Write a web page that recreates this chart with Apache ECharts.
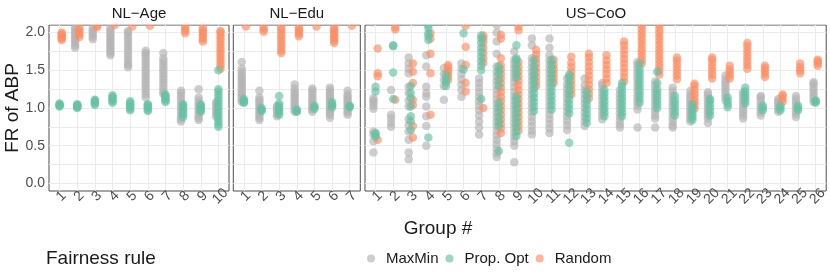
<!DOCTYPE html>
<html><head><meta charset="utf-8">
<script src="https://cdn.jsdelivr.net/npm/echarts@6/dist/echarts.min.js"></script>
<style>html,body{margin:0;padding:0;background:#fff}#c{width:830px;height:277px}</style>
</head><body><div id="c"></div>
<script>
const FONT = "'Liberation Sans', Arial, Helvetica, sans-serif";
const panelNames = ['NL\u2212Age', 'NL\u2212Edu', 'US\u2212CoO'];
const groupCounts = [10, 7, 26];
const rules = ['MaxMin', 'Prop. Opt', 'Random'];
const yTickValues = [0, 0.5, 1, 1.5, 2];
const yGridValues = [0, 0.25, 0.5, 0.75, 1, 1.25, 1.5, 1.75, 2];

// ---- NL-Age (values per group 1..10)
const nlAgeMaxMin = [
  [],
  [1.80,1.83,1.86,1.89,1.92,1.95,1.98,2.01,2.04,2.07],
  [1.91,1.94,1.97,2.00,2.03,2.06],
  [1.70,1.73,1.76,1.79,1.82,1.85,1.88,1.91,1.94,1.97,2.00,2.03,2.06],
  [1.54,1.57,1.60,1.64,1.68,1.72,1.76,1.80,1.84,1.88,1.92,1.96,2.00,2.02],
  [1.14,1.18,1.22,1.26,1.30,1.34,1.38,1.42,1.46,1.50,1.54,1.58,1.62,1.66,1.70,1.73,1.76],
  [1.19,1.22,1.26,1.30,1.34,1.38,1.42,1.46,1.50,1.54,1.58,1.62,1.66,1.73],
  [0.82,0.85,0.88,0.92,0.96,1.00,1.04,1.08,1.12,1.16,1.20,1.23],
  [0.84,0.87,0.90,0.94,0.98,1.02,1.06,1.10,1.14,1.25],
  [0.88,0.91,0.94,0.97,1.00,1.03,1.06,1.08]
];
const nlAgePropOpt = [
  [1.02,1.03,1.04,1.05,1.06],
  [1.00,1.01,1.02,1.03,1.04,1.05],
  [1.04,1.06,1.08,1.10,1.11],
  [1.07,1.09,1.11,1.13,1.15,1.17],
  [0.97,0.99,1.01,1.03,1.05,1.07,1.09],
  [0.96,0.98,1.00,1.02,1.04,1.05],
  [1.08,1.10,1.12,1.14,1.16,1.18],
  [0.88,0.91,0.94,0.97,1.00,1.03,1.05],
  [0.95,0.97,0.99,1.01,1.03,1.05],
  [0.75,0.78,0.82,0.86,0.90,0.94,0.98,1.02,1.06,1.10,1.14,1.18,1.22,1.25,1.50]
];
const nlAgeRandom = [
  [1.90,1.92,1.94,1.96,1.98,2.00],
  [1.94,1.97,2.00,2.03,2.06],
  [2.07,2.09],
  [2.10],
  [2.08],
  [2.09],
  [],
  [1.99,2.02,2.05,2.08],
  [1.88,1.91,1.94,1.97,2.00,2.03,2.06],
  [1.52,1.56,1.60,1.64,1.68,1.72,1.76,1.80,1.84,1.88,1.92,1.96,2.00,2.02]
];

// ---- NL-Edu (groups 1..7)
const nlEduMaxMin = [
  [1.08,1.11,1.14,1.17,1.20,1.23,1.26,1.29,1.32,1.35,1.38,1.41,1.44,1.48,1.52,1.61],
  [0.84,0.87,0.90,0.93,0.96,0.99,1.02,1.05,1.08,1.11,1.14,1.23],
  [0.89,0.92,0.95,0.98,1.01,1.03],
  [0.95,0.98,1.01,1.04,1.07,1.10,1.13,1.16,1.19,1.22,1.26,1.31],
  [0.95,0.98,1.01,1.04,1.07,1.10,1.13,1.16,1.20,1.23,1.26],
  [0.87,0.91,0.94,0.97,1.00,1.03,1.06,1.09,1.12,1.15,1.18,1.21,1.24,1.27],
  [0.91,0.94,0.97,1.00,1.03,1.06,1.09,1.12,1.15,1.18,1.23]
];
const nlEduPropOpt = [
  [1.07,1.08,1.10,1.12],
  [0.96,0.97,0.98,1.00],
  [0.91,0.94,0.97,1.00,1.03,1.06,1.16],
  [0.95,0.96,0.98],
  [0.99,1.01,1.03],
  [1.01,1.03,1.05,1.08],
  [1.01,1.02,1.03]
];
const nlEduRandom = [
  [2.08],
  [2.01,2.04,2.07],
  [1.73,1.76,1.80,1.84,1.88,1.92,1.96,2.00,2.04,2.07],
  [1.95,1.98,2.01,2.04,2.07],
  [2.08],
  [1.86,1.89,1.92,1.95,1.98,2.01,2.04,2.07],
  [2.09]
];

// ---- US-CoO (groups 1..26)
const usCooMaxMin = [
  [0.41,0.56,0.65,0.69,0.99,1.03,1.07,1.10,1.13],
  [0.75,0.80,0.86,0.91,1.24],
  [0.32,0.41,0.58,0.69,0.77,0.85,1.02,1.10,1.20,1.28,1.46,1.52,1.59,1.67],
  [0.50,0.76,0.89,1.02,1.15,1.20,1.28,1.55,1.70],
  [1.11,1.29,1.37,1.45,1.53],
  [1.15,1.24,1.31,1.38,1.45,1.52,1.59],
  [0.65,0.74,0.82,0.90,0.97,1.03,1.09,1.15,1.21,1.27,1.33,1.39],
  [0.35,0.40,0.46,0.52,0.58,0.64,0.70,0.76,0.82,0.88,0.94,1.00,1.06,1.12,1.18,1.24,1.30,1.36,1.42,1.48,1.55,1.72,1.88,2.00,2.10],
  [0.28,0.50,0.56,0.62,0.68,0.74,0.80,0.86,0.92,0.98,1.04,1.10,1.16,1.22,1.28,1.34,1.40,1.46,1.52,1.58,1.64,1.75],
  [0.65,0.70,0.76,0.82,0.88,0.94,1.00,1.06,1.12,1.18,1.24,1.30,1.36,1.42,1.48,1.54,1.60,1.66,1.83,1.92],
  [0.67,0.73,0.79,0.85,0.91,0.97,1.03,1.09,1.15,1.21,1.27,1.33,1.39,1.45,1.51,1.57,1.63,1.70,1.80,1.92],
  [0.71,0.77,0.83,0.89,0.95,1.01,1.07,1.13,1.19,1.25,1.31,1.39],
  [0.76,0.82,0.88,0.94,1.00,1.06,1.12,1.18,1.24,1.30,1.39],
  [0.85,0.90,0.95,1.00,1.05,1.10,1.15,1.20,1.25,1.30,1.33],
  [0.74,0.78,0.83,0.88,0.93,0.98,1.03,1.08,1.13,1.18,1.24],
  [0.74,0.98,1.03,1.08,1.13,1.18,1.23,1.28,1.33,1.38,1.43,1.48,1.53,1.57,1.61],
  [0.74,0.86,0.90,0.95,1.00,1.05,1.10,1.15,1.20,1.25,1.30,1.35],
  [0.74,0.77,0.82,0.87,0.92,0.97,1.02,1.07,1.12,1.17,1.22,1.27],
  [0.82,0.86,0.90,0.94,0.98,1.02,1.06,1.10,1.14,1.18,1.23],
  [0.80,0.86,0.90,0.94,0.98,1.02,1.06,1.10,1.14,1.18,1.21],
  [1.10,1.14,1.18,1.22,1.26,1.30,1.34,1.38,1.43],
  [0.86,0.90,0.94,0.98,1.02,1.06,1.10,1.14,1.18,1.21],
  [0.90,0.94,0.98,1.02,1.06,1.10,1.14,1.16],
  [0.95,0.98,1.01,1.04,1.07,1.10,1.12],
  [0.88,0.92,0.96,1.00,1.04,1.08,1.12,1.16],
  [1.08,1.12,1.16,1.20,1.24,1.28,1.32,1.34]
];
const usCooPropOpt = [
  [0.62,0.65,0.67,1.22,1.28],
  [1.12,1.47,1.82,1.83],
  [0.71,0.82,0.89,1.02,1.13,1.20,1.29],
  [0.61,1.90,1.95,1.99,2.06,2.10],
  [1.29,1.34,1.38,1.44],
  [1.51,1.99],
  [1.12,1.50,1.56,1.62,1.68,1.74,1.80,1.86,1.92,1.96],
  [0.43,0.76,0.82,0.88,0.95,1.01,1.07,1.29,1.37,1.45,1.50,1.55],
  [0.63,0.69,0.75,0.81,0.87,0.93,0.99,1.05,1.10,1.15,1.40,1.46,1.52,1.58,1.64,1.66,1.83],
  [0.96,1.02,1.08,1.14,1.20,1.26,1.32,1.38,1.44,1.50,1.56,1.64],
  [0.98,1.04,1.10,1.16,1.22,1.28,1.34,1.40,1.46,1.52,1.58,1.64],
  [0.54,0.93,0.99,1.05,1.11,1.17,1.23,1.29,1.35,1.41,1.44],
  [0.80,0.86,0.92,0.98,1.04,1.10,1.16,1.22],
  [0.89,0.94,0.99,1.04,1.09,1.14,1.19,1.24],
  [0.89,0.94,0.99,1.04,1.09,1.14,1.19,1.24,1.29,1.33],
  [1.07,1.12,1.17,1.22,1.27,1.32,1.37,1.42,1.47,1.52,1.59],
  [1.00,1.05,1.10,1.15,1.20,1.25,1.33,1.48],
  [0.90,0.95,1.00,1.05,1.10,1.16],
  [0.84,0.88,0.92,0.96,1.00,1.05],
  [0.90,0.95,1.00,1.05,1.10,1.12],
  [1.01,1.05,1.09,1.14],
  [1.06,1.10,1.14,1.18,1.22,1.27],
  [0.97,1.00,1.03],
  [0.97,1.00,1.03],
  [0.97,1.00,1.03],
  [1.07,1.09,1.10]
];
const usCooRandom = [
  [0.58,1.42,1.46,1.79],
  [1.11,2.04,2.07],
  [0.61,0.76,1.04,1.11,1.33,1.48,1.59],
  [0.91,1.46,1.72,1.92,1.99],
  [1.37,1.42,1.46,1.50,1.54,1.57],
  [1.22,1.33,1.57,1.81,2.09],
  [1.00,1.60,1.66,1.73,1.80,1.87,1.92,1.96],
  [0.67,0.73,0.79,0.85,0.91,0.97,1.03,1.09,1.15,1.21,1.27,1.33,1.39,1.45,1.51,1.57,1.66,1.92,1.97],
  [0.70,0.76,0.82,0.88,0.94,1.00,1.06,1.12,1.18,1.24,1.30,1.36,1.42,1.48,1.54,1.61,2.03,2.08],
  [1.29,1.35,1.41,1.47,1.53,1.59,1.65,1.71,1.77],
  [1.33,1.39,1.45,1.51,1.57,1.64],
  [1.18,1.24,1.30,1.36,1.42,1.48,1.54,1.60,1.68],
  [1.13,1.19,1.25,1.31,1.37,1.43,1.49,1.55,1.61,1.67,1.72],
  [1.33,1.39,1.45,1.51,1.57,1.63,1.70],
  [1.35,1.41,1.47,1.53,1.59,1.65,1.71,1.77,1.83,1.88],
  [1.59,1.64,1.69,1.74,1.79,1.84,1.89,1.94,1.99,2.04,2.09],
  [1.44,1.49,1.54,1.59,1.64,1.69,1.74,1.79,1.84,1.89,1.94,1.99,2.04,2.09],
  [1.38,1.43,1.48,1.53,1.58,1.63,1.67],
  [0.99,1.04,1.09,1.14,1.19,1.24,1.29,1.32],
  [1.39,1.44,1.49,1.54,1.59,1.64,1.67],
  [1.39,1.43,1.47,1.51,1.56],
  [1.52,1.57,1.62,1.67,1.72,1.77,1.82,1.86],
  [1.41,1.45,1.49,1.53,1.56],
  [1.08,1.12,1.16,1.18],
  [1.46,1.50,1.54,1.59],
  [1.56,1.59,1.62,1.64]
];

const panelData = [
  [nlAgeMaxMin, nlAgePropOpt, nlAgeRandom],
  [nlEduMaxMin, nlEduPropOpt, nlEduRandom],
  [usCooMaxMin, usCooPropOpt, usCooRandom]
];

// ---- presentation
const colors = ['#B3B3B3', '#66C2A5', '#FC8D62'];
const dodge = [-0.12, 0, 0.12];
const gridLeft = [49, 233.3, 365];
const gridWidth = [180, 127, 462];
const gridTop = 25, gridHeight = 166;
const XMIN_PAD = 0.6; // discrete-axis expansion each side

function build(groups, off) {
  const out = [];
  groups.forEach((vals, i) => vals.forEach(v => out.push([i + 1 + off, v])));
  return out;
}
// label slots every 0.2 units from 0.4 to n+0.6; group numbers sit on the integer slots
function labelSlots(n) {
  const out = [];
  const count = 5 * n + 2;
  for (let i = 0; i < count; i++) out.push((i + 2) % 5 === 0 ? String((i + 2) / 5) : '');
  return out;
}

const grids = [], xAxes = [], yAxes = [], series = [], graphics = [];
for (let p = 0; p < 3; p++) {
  const n = groupCounts[p];
  const cats = [];
  for (let k = 1; k <= n; k++) cats.push(k);
  grids.push({left: gridLeft[p], top: gridTop, width: gridWidth[p], height: gridHeight,
    show: true, borderColor: '#4D4D4D', borderWidth: 1, backgroundColor: 'transparent'});
  // data axis (value) – draws the vertical grid lines
  xAxes.push({gridIndex: p, type: 'value', min: 1 - XMIN_PAD, max: n + XMIN_PAD,
    axisLine: {show: false},
    axisTick: {show: false, customValues: cats},
    axisLabel: {show: false},
    splitLine: {show: true, lineStyle: {color: '#EBEBEB', width: 1}}});
  // label axis (category slots aligned to the value axis)
  xAxes.push({gridIndex: p, type: 'category', boundaryGap: false, data: labelSlots(n),
    position: 'bottom',
    axisLine: {show: false}, axisTick: {show: false}, splitLine: {show: false},
    axisLabel: {interval: 0, rotate: 45, align: 'center', verticalAlign: 'middle',
      margin: 7, padding: [5, 0, 0, 5], fontSize: 14, color: '#4D4D4D', fontFamily: FONT}});
  yAxes.push({gridIndex: p, type: 'value', min: -0.1, max: 2.1,
    axisLine: {show: false},
    axisTick: {show: false, customValues: yGridValues},
    axisLabel: {show: p === 0, customValues: yTickValues, margin: 4, fontSize: 14,
      showMinLabel: true, showMaxLabel: true,
      color: '#4D4D4D', fontFamily: FONT, formatter: v => v.toFixed(1)},
    splitLine: {show: true, lineStyle: {color: '#EBEBEB', width: 1}}});
  [0, 2, 1].forEach(r => {
    series.push({type: 'scatter', name: rules[r], xAxisIndex: 2 * p, yAxisIndex: p,
      symbol: 'circle', symbolSize: 8.5, silent: true,
      itemStyle: {color: colors[r], opacity: 0.65},
      data: build(panelData[p][r], dodge[r])});
  });
  graphics.push({type: 'text', z: 101, x: gridLeft[p] + gridWidth[p] / 2, y: 14,
    style: {text: panelNames[p], fill: '#1A1A1A', font: '15px ' + FONT, align: 'center', verticalAlign: 'middle'}});
}
graphics.unshift({type: 'rect', z: 100, shape: {x: 0, y: 0, width: 830, height: 24.5}, style: {fill: '#fff'}});
graphics.push({type: 'text', x: 438, y: 229, style: {text: 'Group #', fill: '#1A1A1A', font: '19px ' + FONT, align: 'center', verticalAlign: 'middle'}});
graphics.push({type: 'text', x: 13, y: 108, rotation: Math.PI / 2, style: {text: 'FR of ABP', fill: '#1A1A1A', font: '19px ' + FONT, align: 'center', verticalAlign: 'middle'}});
graphics.push({type: 'text', x: 46, y: 259, style: {text: 'Fairness rule', fill: '#1A1A1A', font: '19px ' + FONT, align: 'left', verticalAlign: 'middle'}});

const chart = echarts.init(document.getElementById('c'), null, {renderer: 'canvas'});
chart.setOption({
  animation: false,
  textStyle: {fontFamily: FONT},
  grid: grids, xAxis: xAxes, yAxis: yAxes, series: series,
  legend: {left: 362, top: 246, icon: 'circle', itemWidth: 20, itemHeight: 8, itemGap: 7,
    selectedMode: false, data: rules,
    textStyle: {fontSize: 15, color: '#1A1A1A', fontFamily: FONT}},
  graphic: graphics
});
</script></body></html>
